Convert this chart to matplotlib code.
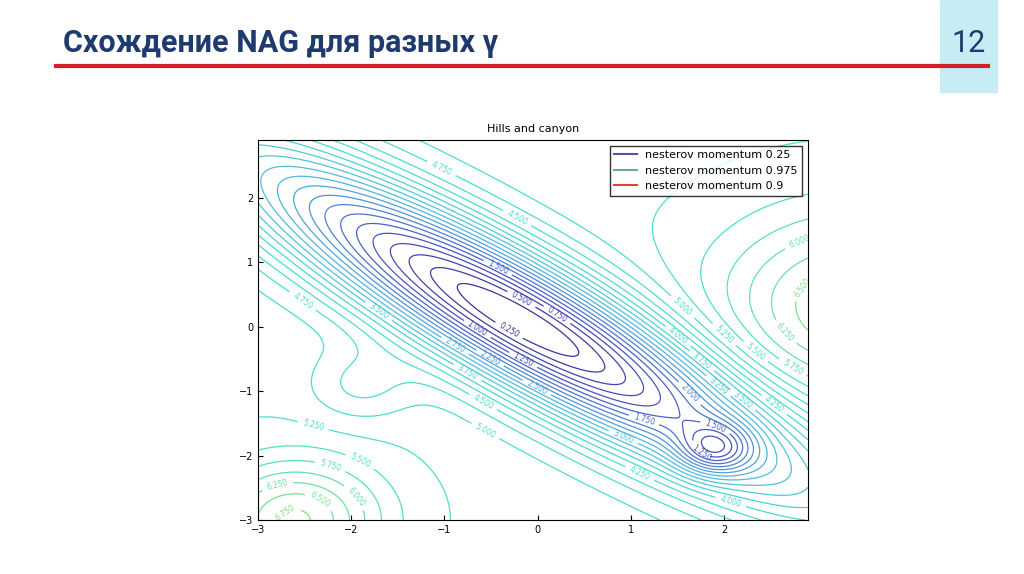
import numpy as np
import matplotlib
matplotlib.use("Agg")
import matplotlib.pyplot as plt
from matplotlib.colors import LinearSegmentedColormap

title = "Схождение NAG для разных γ"
page = "12"
chart_title = "Hills and canyon"
legend_labels = ["nesterov momentum 0.25", "nesterov momentum 0.975", "nesterov momentum 0.9"]
legend_colors = ["#5a4fa8", "#6aa890", "#e04040"]
levels = np.arange(0.25, 10.0, 0.25)
xticks = [-3, -2, -1, 0, 1, 2]
yticks = [-3, -2, -1, 0, 1, 2]
# canyon parameters: minimum centre, dip centre
center = (-0.2, 0.1)
dip = (1.9, -1.9)

def surface(x, y):
    u = x - center[0]; v = y - center[1]
    p = (u - 0.85 * v) / np.sqrt(1.72); q = (0.85 * u + v) / np.sqrt(1.72)
    r = 0.35 * p**2 + 7 * q**2
    f = 5.2 * (1 - np.exp(-r / 5.2))
    f -= 1.5 * np.exp(-((x - dip[0])**2 + (y - dip[1])**2) / 0.15)
    f += 1.6 * np.exp(-((x + 2.6)**2 + (y + 3.0)**2) / 0.8)
    f -= 0.5 * np.exp(-((x + 1.9)**2 + (y + 0.9)**2) / 0.3)
    f += 1.6 * np.exp(-((x - 3.4)**2 + (y - 0.3)**2) / 2.0)
    return f

fig = plt.figure(figsize=(10.24, 5.74), dpi=100)
fig.patch.set_facecolor("white")
fig.text(0.062, 0.925, title, fontsize=22, color="#1f3a6e", fontweight="bold",
         family="Roboto", va="center", stretch="condensed")
fig.add_artist(plt.Line2D([0.055, 0.965], [0.885, 0.885], color="#d0202a", lw=3))
fig.add_artist(plt.Rectangle((0.918, 0.84), 0.056, 0.16, color="#c8ecf4", zorder=0))
fig.text(0.946, 0.925, page, fontsize=22, color="#1f3a6e", ha="center", va="center", family="Roboto")

ax = fig.add_axes([0.252, 0.094, 0.537, 0.662])
xs = np.linspace(-3, 2.9, 400); ys = np.linspace(-3, 2.9, 400)
X, Y = np.meshgrid(xs, ys)
Z = surface(X, Y)
cmap = LinearSegmentedColormap.from_list("c", ["#3a2a90", "#4a5cc8", "#50b8e0", "#48dcd4", "#4ee0c8", "#90e070"])
cs = ax.contour(X, Y, Z, levels=levels, cmap=cmap, linewidths=0.9, vmin=0, vmax=7)
ax.clabel(cs, cs.levels, fmt="%.3f", fontsize=5.5, inline=True)
for lab, c in zip(legend_labels, legend_colors):
    ax.plot([], [], color=c, label=lab)
ax.legend(loc="upper right", fontsize=8, frameon=True, fancybox=False, edgecolor="black")
ax.set_xlim(-3, 2.9); ax.set_ylim(-3, 2.9)
ax.set_xticks(xticks); ax.set_yticks(yticks)
ax.set_xticklabels(["\u22123", "\u22122", "\u22121", "0", "1", "2"])
ax.set_yticklabels(["\u22123", "\u22122", "\u22121", "0", "1", "2"])
ax.tick_params(labelsize=7, direction="in")
ax.set_title(chart_title, fontsize=8)
fig.savefig("out.png", dpi=100)
